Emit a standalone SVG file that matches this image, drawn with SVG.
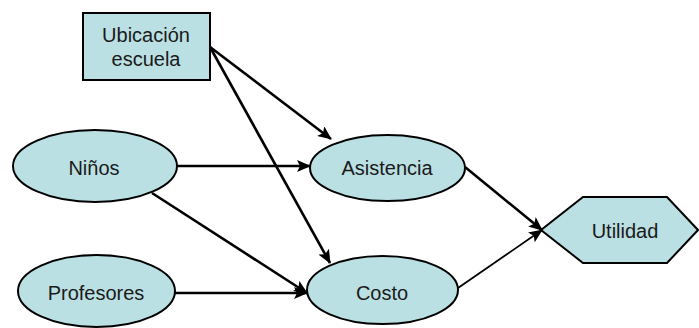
<svg xmlns="http://www.w3.org/2000/svg" width="699" height="328" viewBox="0 0 699 328">
  <style>
    .node { fill: #bbe0e3; stroke: #000; stroke-width: 2; }
    .label { font-family: "Liberation Sans", Arial, sans-serif; font-size: 20px; fill: #1a1a1a; text-anchor: middle; }
    .edge { stroke: #000; stroke-width: 2.6; fill: none; marker-end: url(#arrow); }
    .thin { stroke-width: 1.8; }
  </style>
  <defs>
    <marker id="arrow" markerUnits="userSpaceOnUse" markerWidth="14" markerHeight="12" refX="13" refY="6" orient="auto">
      <path d="M0,0 L14,6 L0,12 L3,6 Z" fill="#000"/>
    </marker>
  </defs>

  <g id="node-ubicacion">
    <rect class="node" x="83" y="13" width="127" height="67"/>
    <text class="label" x="146" y="42">Ubicación</text>
    <text class="label" x="146" y="66">escuela</text>
  </g>
  <g id="node-ninos">
    <ellipse class="node" cx="95" cy="166" rx="82" ry="36"/>
    <text class="label" x="94" y="175">Niños</text>
  </g>
  <g id="node-profesores">
    <ellipse class="node" cx="96.5" cy="291" rx="78.5" ry="36"/>
    <text class="label" x="96" y="300">Profesores</text>
  </g>
  <g id="node-asistencia">
    <ellipse class="node" cx="387.5" cy="168" rx="77.5" ry="33"/>
    <text class="label" x="387" y="175">Asistencia</text>
  </g>
  <g id="node-costo">
    <ellipse class="node" cx="382.5" cy="290" rx="75.5" ry="34"/>
    <text class="label" x="382" y="300">Costo</text>
  </g>
  <g id="node-utilidad">
    <polygon class="node" points="541,230 583,197 667,197 698,230 667,263 583,263"/>
    <text class="label" x="625" y="238">Utilidad</text>
  </g>

  <g id="connectors">
    <line class="edge" x1="210" y1="47" x2="331" y2="139"/>
    <line class="edge" x1="210" y1="47" x2="330" y2="263"/>
    <line class="edge" x1="177" y1="166" x2="310" y2="166"/>
    <line class="edge" x1="152" y1="193" x2="307" y2="293"/>
    <line class="edge" x1="175" y1="293" x2="307" y2="293"/>
    <line class="edge" x1="465" y1="167" x2="542" y2="230"/>
    <line class="edge thin" x1="458" y1="288" x2="542" y2="230"/>
  </g>
</svg>
